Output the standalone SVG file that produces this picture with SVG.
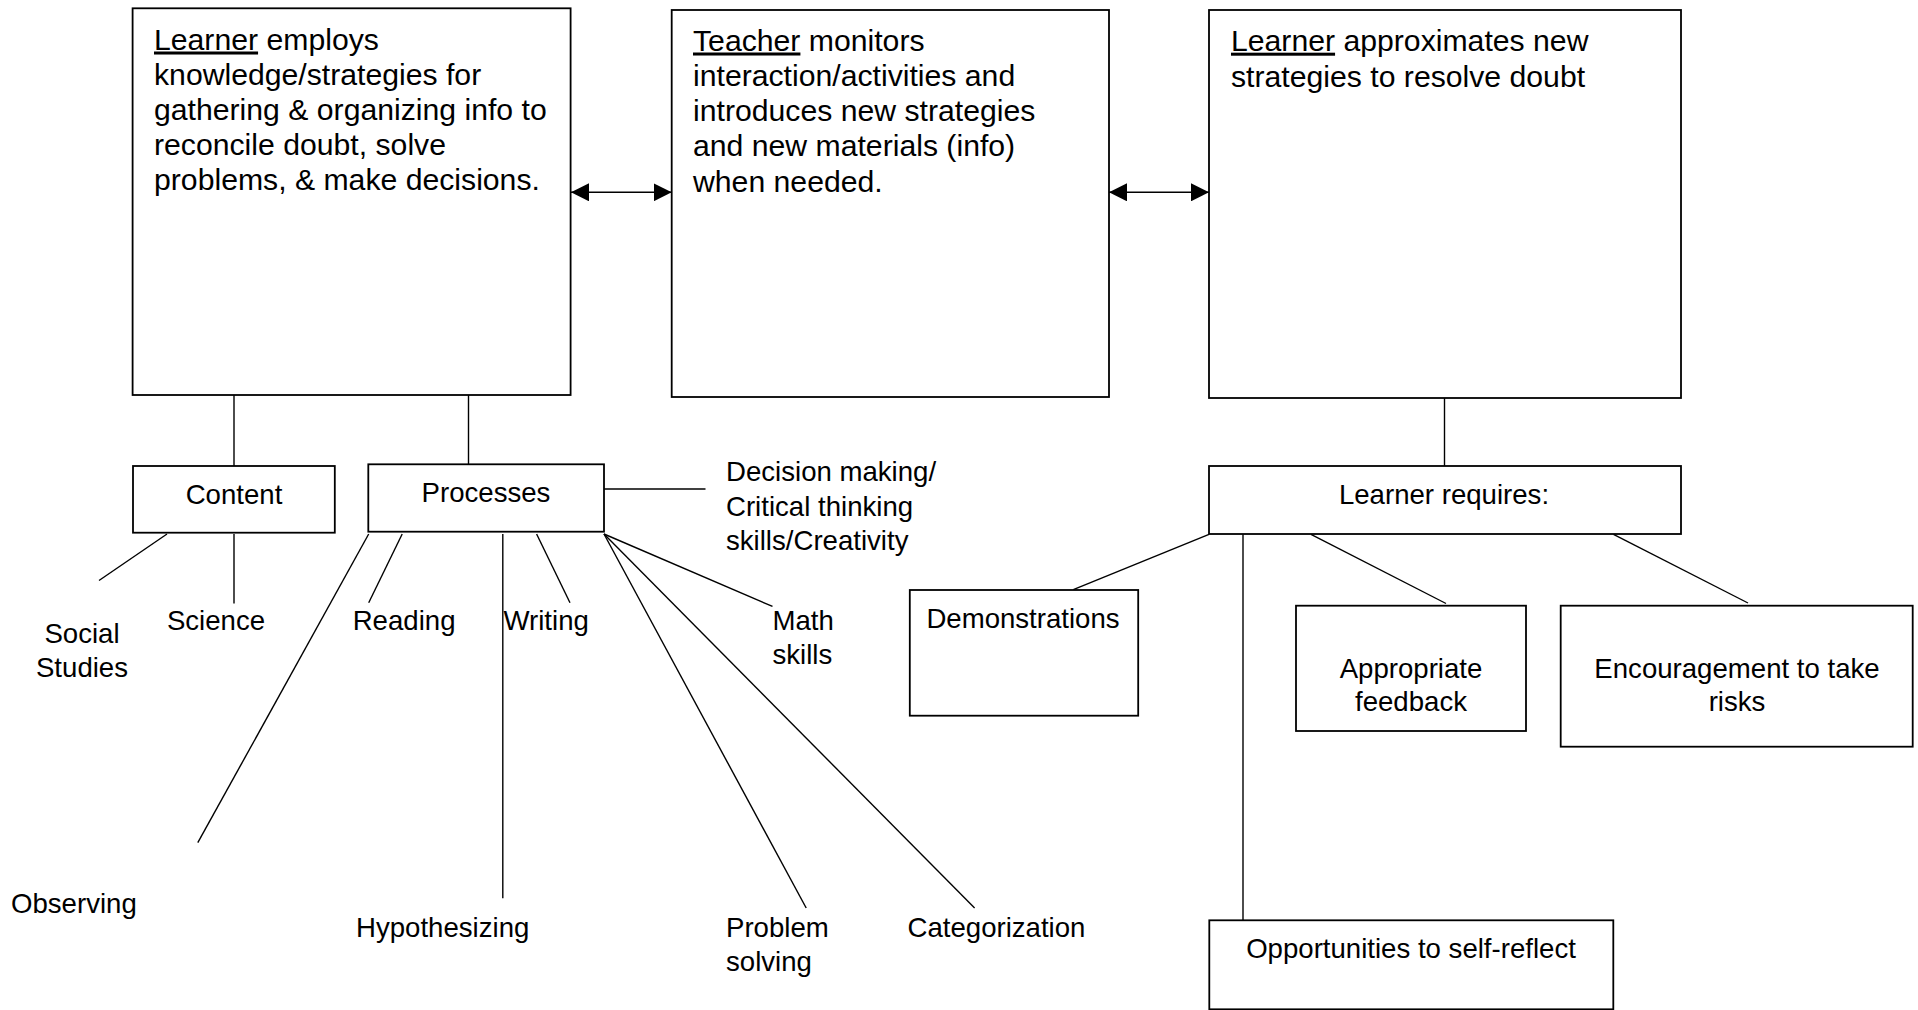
<svg xmlns="http://www.w3.org/2000/svg" width="1918" height="1010" viewBox="0 0 1918 1010">
<style>
.box{fill:#fff;stroke:#000;stroke-width:1.8}
.ln{stroke:#000;stroke-width:1.4;fill:none}
.big{font-family:"Liberation Sans",Arial,sans-serif;font-size:30.2px;fill:#000}
.sm{font-family:"Liberation Sans",Arial,sans-serif;font-size:27.6px;fill:#000}
.c{text-anchor:middle}
.u{text-decoration:underline}
</style>
<defs>
<marker id="ah" markerUnits="userSpaceOnUse" viewBox="0 0 18 18" refX="18" refY="9" markerWidth="18" markerHeight="18" orient="auto-start-reverse">
<path d="M0,0 L18,9 L0,18 z" fill="#000"/>
</marker>
</defs>
<rect width="1918" height="1010" fill="#fff"/>

<g id="connectors">
<line class="ln" x1="571" y1="192.3" x2="671.7" y2="192.3" marker-start="url(#ah)" marker-end="url(#ah)"/>
<line class="ln" x1="1109" y1="192.3" x2="1209" y2="192.3" marker-start="url(#ah)" marker-end="url(#ah)"/>
<line class="ln" x1="234" y1="395" x2="234" y2="466"/>
<line class="ln" x1="468.5" y1="395" x2="468.5" y2="464.5"/>
<line class="ln" x1="167" y1="534" x2="99" y2="580.5"/>
<line class="ln" x1="234" y1="534" x2="234" y2="603.5"/>
<line class="ln" x1="604" y1="489" x2="705.5" y2="489"/>
<line class="ln" x1="368.7" y1="534" x2="197.8" y2="842.7"/>
<line class="ln" x1="402.2" y1="534" x2="368.7" y2="602.7"/>
<line class="ln" x1="502.8" y1="534" x2="502.8" y2="898.3"/>
<line class="ln" x1="536.6" y1="534" x2="570" y2="602.7"/>
<line class="ln" x1="604" y1="534" x2="772.5" y2="606.4"/>
<line class="ln" x1="604" y1="534" x2="806.2" y2="908"/>
<line class="ln" x1="604" y1="534" x2="974.6" y2="908"/>
<line class="ln" x1="1444.5" y1="398" x2="1444.5" y2="466"/>
<line class="ln" x1="1209" y1="534.3" x2="1073.3" y2="589.7"/>
<line class="ln" x1="1243" y1="534.3" x2="1243" y2="920.3"/>
<line class="ln" x1="1311" y1="534.3" x2="1446" y2="603.5"/>
<line class="ln" x1="1613.5" y1="534.3" x2="1748" y2="603"/>
</g>

<g id="learner-employs">
<rect class="box" x="132.6" y="8.3" width="438" height="386.7"/>
<text class="big"><tspan x="154" y="49.5"><tspan class="u">Learner</tspan> employs</tspan><tspan x="154" y="84.5">knowledge/strategies for</tspan><tspan x="154" y="119.5">gathering &amp; organizing info to</tspan><tspan x="154" y="154.5">reconcile doubt, solve</tspan><tspan x="154" y="189.5">problems, &amp; make decisions.</tspan></text>
</g>

<g id="teacher-monitors">
<rect class="box" x="671.7" y="10" width="437.3" height="387"/>
<text class="big"><tspan x="693" y="50.5"><tspan class="u">Teacher</tspan> monitors</tspan><tspan x="693" y="85.8">interaction/activities and</tspan><tspan x="693" y="121.1">introduces new strategies</tspan><tspan x="693" y="156.4">and new materials (info)</tspan><tspan x="693" y="191.7">when needed.</tspan></text>
</g>

<g id="learner-approximates">
<rect class="box" x="1209" y="10" width="472" height="388"/>
<text class="big"><tspan x="1231" y="50.7"><tspan class="u">Learner</tspan> approximates new</tspan><tspan x="1231" y="86.5">strategies to resolve doubt</tspan></text>
</g>

<g id="content">
<rect class="box" x="133" y="466" width="201.8" height="66.7"/>
<text class="sm c" x="234" y="504">Content</text>
</g>

<g id="processes">
<rect class="box" x="368.3" y="464.3" width="235.7" height="67.4"/>
<text class="sm c" x="486" y="502">Processes</text>
</g>

<g id="decision-making">
<text class="sm"><tspan x="726" y="481">Decision making/</tspan><tspan x="726" y="515.5">Critical thinking</tspan><tspan x="726" y="549.5">skills/Creativity</tspan></text>
</g>

<g id="social-studies">
<text class="sm c"><tspan x="82" y="643">Social</tspan><tspan x="82" y="677">Studies</tspan></text>
</g>

<g id="science"><text class="sm c" x="216" y="629.5">Science</text></g>
<g id="reading"><text class="sm" x="352.7" y="629.5">Reading</text></g>
<g id="writing"><text class="sm" x="503.5" y="629.5">Writing</text></g>
<g id="math-skills">
<text class="sm"><tspan x="772.5" y="629.5">Math</tspan><tspan x="772.5" y="664">skills</tspan></text>
</g>
<g id="observing"><text class="sm" x="11" y="913">Observing</text></g>
<g id="hypothesizing"><text class="sm" x="356" y="937">Hypothesizing</text></g>
<g id="problem-solving">
<text class="sm"><tspan x="726" y="937">Problem</tspan><tspan x="726" y="971">solving</tspan></text>
</g>
<g id="categorization"><text class="sm" x="907.5" y="937">Categorization</text></g>

<g id="learner-requires">
<rect class="box" x="1209" y="466" width="472" height="68"/>
<text class="sm c" x="1444" y="504">Learner requires:</text>
</g>

<g id="demonstrations">
<rect class="box" x="909.8" y="590" width="228.4" height="125.7"/>
<text class="sm c" x="1023" y="628">Demonstrations</text>
</g>

<g id="appropriate-feedback">
<rect class="box" x="1296" y="605.7" width="230" height="125.3"/>
<text class="sm c"><tspan x="1411" y="678">Appropriate</tspan><tspan x="1411" y="711">feedback</tspan></text>
</g>

<g id="encouragement">
<rect class="box" x="1560.7" y="605.7" width="352" height="141"/>
<text class="sm c"><tspan x="1737" y="677.5">Encouragement to take</tspan><tspan x="1737" y="710.5">risks</tspan></text>
</g>

<g id="opportunities">
<rect class="box" x="1209.3" y="920.3" width="404" height="89"/>
<text class="sm c" x="1411" y="958">Opportunities to self-reflect</text>
</g>
</svg>
